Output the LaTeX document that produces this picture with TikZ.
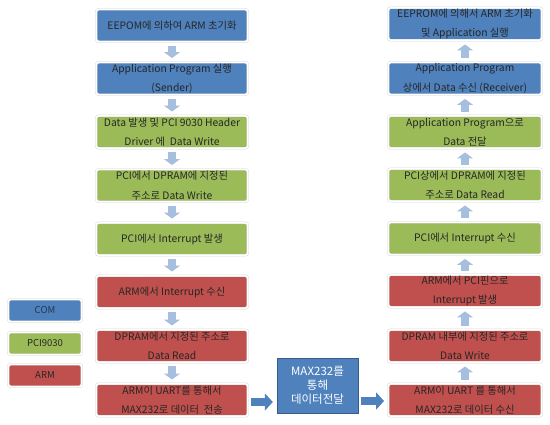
\documentclass[tikz,border=0pt]{standalone}
\usepackage{fontspec}
\setmainfont{Noto Sans CJK KR}
\usetikzlibrary{arrows.meta}
\definecolor{comblue}{HTML}{4F81BD}
\definecolor{pcigreen}{HTML}{9BBB59}
\definecolor{armred}{HTML}{C0504D}
\definecolor{flowblue}{HTML}{A7BFDE}
\definecolor{edgeblue}{HTML}{385D8A}
\tikzset{
  stepbox/.style={draw=black!18, double=white, double distance=1.6pt,
    rounded corners=2.5pt, minimum height=32.5pt, inner sep=1pt,
    align=center, text=black!85, font=\fontsize{10.3}{19.5}\selectfont},
  leftbox/.style={stepbox, minimum width=151.5pt},
  rightbox/.style={stepbox, minimum width=153.5pt},
  com/.style={fill=comblue},
  pci/.style={fill=pcigreen},
  arm/.style={fill=armred},
  keybox/.style={stepbox, minimum width=73.5pt, minimum height=22.5pt,
    font=\fontsize{9.5}{11}\selectfont},
  flow/.style={flowblue, line width=8pt, shorten <=4pt, shorten >=4pt,
    -{Triangle[length=6pt, width=16pt]}},
  link/.style={comblue, line width=8pt, shorten <=3pt, shorten >=4pt,
    -{Triangle[length=8pt, width=17pt]}},
}
\begin{document}
\begin{tikzpicture}[x=1pt, y=-1pt]
\useasboundingbox (0,0) rectangle (550,424);
  % Sender side
  \node[leftbox, com] (s1) at (172,25.5) {EEPOM에 의하여 ARM 초기화};
  \node[leftbox, com] (s2) at (172,78.5) {Application Program 실행\\(Sender)};
  \node[leftbox, pci] (s3) at (172,132) {Data 발생 및 PCI 9030 Header\\Driver 에 \ Data Write};
  \node[leftbox, pci] (s4) at (172,185.5) {PCI에서 DPRAM에 지정된\\주소로 Data Write};
  \node[leftbox, pci] (s5) at (172,239) {PCI에서 Interrupt 발생};
  \node[leftbox, arm] (s6) at (172,292) {ARM에서 Interrupt 수신};
  \node[leftbox, arm] (s7) at (172,346) {DPRAM에서 지정된 주소로\\Data Read};
  \node[leftbox, arm] (s8) at (172,400) {ARM이 UART를 통해서\\MAX232로 데이터 \ 전송};

  % Receiver side
  \node[rightbox, com] (r1) at (465,24) {EEPROM에 의해서 ARM 초기화\\및 Application 실행};
  \node[rightbox, com] (r2) at (465,78.5) {Application Program\\상에서 Data 수신 (Receiver)};
  \node[rightbox, pci] (r3) at (465,132) {Application Program으로\\Data 전달};
  \node[rightbox, pci] (r4) at (465,185) {PCI상에서 DPRAM에 지정된\\주소로 Data Read};
  \node[rightbox, pci] (r5) at (465,238.5) {PCI에서 Interrupt 수신};
  \node[rightbox, arm] (r6) at (465,291) {ARM에서 PCI핀으로\\Interrupt 발생};
  \node[rightbox, arm] (r7) at (465,346) {DPRAM 내부에 지정된 주소로\\Data Write};
  \node[rightbox, arm] (r8) at (465,400) {ARM이 UART 를 통해서\\MAX232로 데이터 수신};

  % Serial link
  \node[draw=edgeblue, fill=comblue, minimum width=81pt, minimum height=55pt,
    align=center, text=white, font=\fontsize{11.5}{14}\selectfont] (max) at (317.5,385.5)
    {MAX232를\\통해\\데이터전달};

  % Legend
  \node[keybox, com, text=edgeblue!60!black] (kcom) at (45,310.5) {COM};
  \node[keybox, pci] (kpci) at (45,343.5) {PCI9030};
  \node[keybox, arm] (karm) at (45,375.5) {ARM};

  \draw[flow] (s1) -- (s2);
  \draw[flow] (s2) -- (s3);
  \draw[flow] (s3) -- (s4);
  \draw[flow] (s4) -- (s5);
  \draw[flow] (s5) -- (s6);
  \draw[flow] (s6) -- (s7);
  \draw[flow] (s7) -- (s8);
  \draw[flow] (r8) -- (r7);
  \draw[flow] (r7) -- (r6);
  \draw[flow] (r6) -- (r5);
  \draw[flow] (r5) -- (r4);
  \draw[flow] (r4) -- (r3);
  \draw[flow] (r3) -- (r2);
  \draw[flow] (r2) -- (r1);
  \draw[link] (s8.east |- 0,402) -- (max.west |- 0,402);
  \draw[link] (max.east |- 0,401) -- (r8.west |- 0,401);
\end{tikzpicture}
\end{document}
